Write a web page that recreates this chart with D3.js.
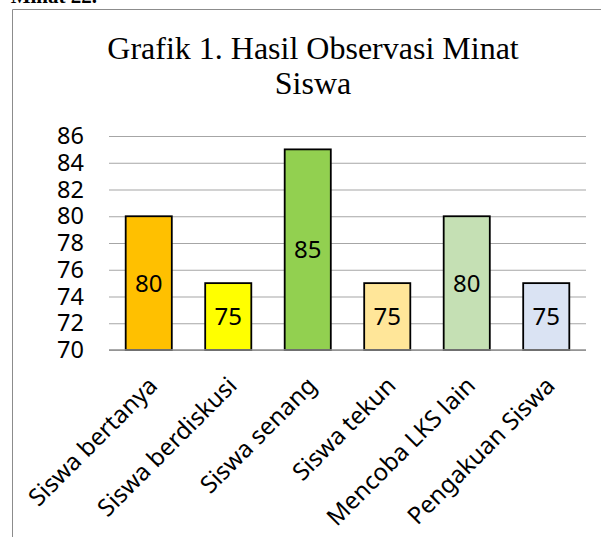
<!DOCTYPE html>
<html>
<head>
<meta charset="utf-8">
<script src="https://cdn.jsdelivr.net/npm/d3@7"></script>
<style>
  html, body { margin: 0; padding: 0; background: #fff; }
  svg { display: block; }
</style>
</head>
<body>
<div id="chart"></div>
<script>
// Data
var categories = ["Siswa bertanya", "Siswa berdiskusi", "Siswa senang", "Siswa tekun", "Mencoba LKS lain", "Pengakuan Siswa"];
var values = [80, 75, 85, 75, 80, 75];
var barColors = ["#FFC000", "#FFFF00", "#92D050", "#FFE699", "#C5E0B4", "#DAE3F3"];
var yTicks = [70, 72, 74, 76, 78, 80, 82, 84, 86];
var titleLines = ["Grafik 1. Hasil Observasi Minat", "Siswa"];

var W = 601, H = 537;
var plot = { left: 109, right: 586, top: 136, bottom: 350 };

var svg = d3.select("#chart")
    .append("svg")
    .attr("width", W)
    .attr("height", H);

// cropped caption from the page above the chart (only its bottom shows)
svg.append("text")
    .attr("x", 97)
    .attr("y", 3)
    .attr("text-anchor", "end")
    .style("font-family", "Liberation Serif")
    .style("font-weight", "bold")
    .style("font-size", "21px")
    .text("Minat 22.");

// chart frame (only left and top edges visible)
svg.append("path")
    .attr("d", "M12.5," + H + "V9.5H" + W)
    .attr("fill", "none")
    .attr("stroke", "#8c8c8c")
    .attr("stroke-width", 1);

// Title
svg.append("g")
    .selectAll("text")
    .data(titleLines)
    .enter()
    .append("text")
    .attr("x", 313)
    .attr("y", function (d, i) { return 59 + i * 34.5 })
    .attr("text-anchor", "middle")
    .style("font-family", "Liberation Serif")
    .style("font-size", "32px")
    .attr("fill", "#000")
    .text(function (d) { return d });

/*   Scales   */
var x = d3.scaleBand()
    .domain(categories)
    .range([plot.left, plot.right])
    .paddingInner(0.42)
    .paddingOuter(0.21);

var y = d3.scaleLinear()
    .domain([70, 86])
    .range([plot.bottom, plot.top]);

// gridlines
svg.append("g")
    .attr("transform", "translate(" + plot.left + ",0)")
    .call(d3.axisLeft(y)
        .tickValues(yTicks)
        .tickSize(-(plot.right - plot.left))
        .tickFormat(""))
    .call(function (g) { g.select(".domain").remove() })
    .selectAll(".tick line")
    .attr("stroke", "#a6a6a6")
    .attr("stroke-width", 1.2);

// Y axis labels
var yAxis = svg.append("g")
    .attr("transform", "translate(84,0)")
    .call(d3.axisLeft(y).tickValues(yTicks).tickSize(0).tickPadding(0));
yAxis.select(".domain").remove();
yAxis.selectAll("text")
    .style("font-family", "Noto Sans")
    .style("font-size", "23.5px")
    .attr("fill", "#000");

// Bars
svg.append("g")
    .selectAll("rect")
    .data(values)
    .enter()
    .append("rect")
    .attr("x", function (d, i) { return x(categories[i]) })
    .attr("y", function (d) { return y(d) })
    .attr("width", x.bandwidth())
    .attr("height", function (d) { return y(70) - y(d) })
    .attr("fill", function (d, i) { return barColors[i] })
    .attr("stroke", "#000")
    .attr("stroke-width", 1.8);

// baseline axis drawn over the bars' bottom edge
svg.append("line")
    .attr("x1", plot.left)
    .attr("x2", plot.right)
    .attr("y1", y(70))
    .attr("y2", y(70))
    .attr("stroke", "#8f8f8f")
    .attr("stroke-width", 1.5);

// data labels, centred in each bar
svg.append("g")
    .selectAll("text")
    .data(values)
    .enter()
    .append("text")
    .attr("x", function (d, i) { return x(categories[i]) + x.bandwidth() / 2 })
    .attr("y", function (d) { return (y(d) + y(70)) / 2 })
    .attr("dy", "0.36em")
    .attr("text-anchor", "middle")
    .style("font-family", "Noto Sans")
    .style("font-size", "24px")
    .attr("fill", "#000")
    .text(function (d) { return d });

// X axis labels, rotated -45
svg.append("g")
    .selectAll("text")
    .data(categories)
    .enter()
    .append("text")
    .attr("transform", function (d) {
        var cx = x(d) + x.bandwidth() / 2 + 4;
        return "translate(" + cx + ",381) rotate(-45)";
    })
    .attr("text-anchor", "end")
    .attr("dy", "0.36em")
    .style("font-family", "Noto Sans")
    .style("font-size", "24px")
    .attr("fill", "#000")
    .text(function (d) { return d });
</script>
</body>
</html>
